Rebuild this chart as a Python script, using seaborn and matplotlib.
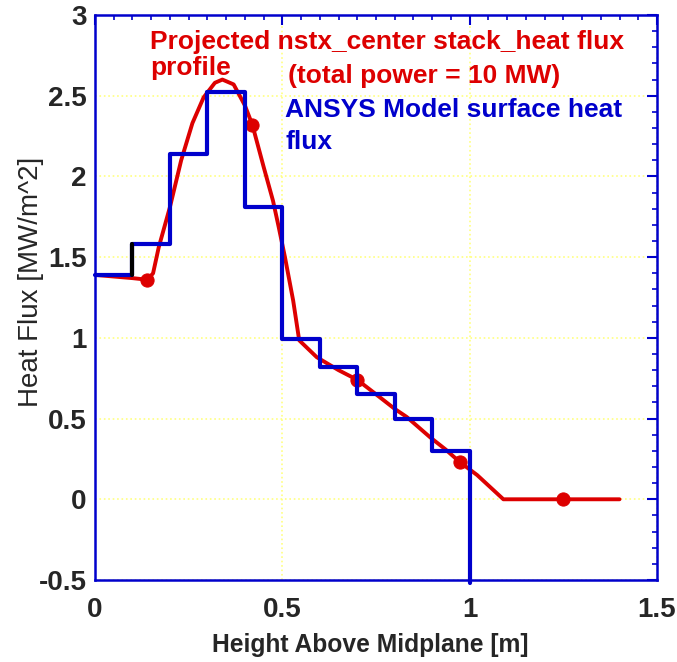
import matplotlib
matplotlib.use("Agg")
import matplotlib.pyplot as plt
import seaborn as sns
from matplotlib.ticker import MultipleLocator

# projected heat flux profile (red)
profile_x = [0.0, 0.05, 0.1, 0.14, 0.155, 0.17, 0.2, 0.23, 0.26, 0.29, 0.32, 0.34,
             0.37, 0.40, 0.42, 0.45, 0.475, 0.49, 0.507, 0.529, 0.545, 0.592, 0.65,
             0.70, 0.742, 0.80, 0.832, 0.894, 0.935, 0.974, 1.02, 1.09, 1.25, 1.40]
profile_y = [1.39, 1.38, 1.37, 1.36, 1.40, 1.56, 1.81, 2.10, 2.33, 2.49, 2.58, 2.60,
             2.57, 2.44, 2.32, 2.06, 1.85, 1.69, 1.50, 1.23, 0.985, 0.88, 0.80,
             0.74, 0.665, 0.56, 0.51, 0.385, 0.31, 0.23, 0.15, 0.0, 0.0, 0.0]
marker_x = [0.14, 0.42, 0.70, 0.974, 1.25]
marker_y = [1.36, 2.32, 0.74, 0.23, 0.0]

# ANSYS model surface heat flux (blue steps)
step_x = [0.0, 0.1, 0.2, 0.3, 0.4, 0.5, 0.6, 0.7, 0.8, 0.9, 1.0, 1.0]
step_y = [1.39, 1.58, 2.14, 2.52, 1.81, 0.99, 0.82, 0.65, 0.50, 0.30, 0.30, -0.52]

sns.set_style("white")
plt.rcParams['font.family'] = ['Liberation Sans', 'DejaVu Sans']

fig = plt.figure(figsize=(6.77, 6.62), dpi=100)
ax = fig.add_axes([95/677, 1 - 580/662, 562/677, 565/662])

blue = "#0000cc"
red = "#dd0000"

sns.lineplot(x=profile_x, y=profile_y, sort=False, estimator=None, color=red,
             linewidth=2.8, ax=ax, zorder=3)
sns.scatterplot(x=marker_x, y=marker_y, color=red, s=90, edgecolor=red, ax=ax, zorder=4)
sns.lineplot(x=step_x, y=step_y, sort=False, estimator=None, color=blue,
             linewidth=3, drawstyle='steps-post', ax=ax, zorder=5, clip_on=False)
# black riser at x = 0.1
ax.plot([step_x[1], step_x[1]], [step_y[0], step_y[1]], color='black', lw=3, zorder=6)

ax.set_xlim(0, 1.5)
ax.set_ylim(-0.5, 3)
ax.xaxis.set_major_locator(MultipleLocator(0.5))
ax.xaxis.set_minor_locator(MultipleLocator(0.05))
ax.yaxis.set_major_locator(MultipleLocator(0.5))
ax.yaxis.set_minor_locator(MultipleLocator(0.1))
ax.set_xticks([0, 0.5, 1, 1.5], ['0', '0.5', '1', '1.5'])
ax.set_yticks([-0.5, 0, 0.5, 1, 1.5, 2, 2.5, 3], ['-0.5', '0', '0.5', '1', '1.5', '2', '2.5', '3'])
ax.tick_params(which='both', direction='in', top=True, right=True, color=blue,
               labelsize=20)
ax.tick_params(axis='x', pad=12)
ax.tick_params(axis='y', pad=6)
ax.tick_params(which='major', length=7, width=1.5)
ax.tick_params(which='minor', length=3.6, width=1.2)
for lab in ax.get_xticklabels() + ax.get_yticklabels():
    lab.set_fontweight('bold')
for sp in ax.spines.values():
    sp.set_color(blue)
    sp.set_linewidth(1.8)

ax.grid(True, which='major', color='#ffff80', linestyle=':', linewidth=1.2)
ax.set_axisbelow(True)

ax.set_xlabel("Height Above Midplane [m]", fontsize=17.7, fontweight='bold')
ax.xaxis.set_label_coords(0.489, -0.094)
ax.set_ylabel("Heat Flux [MW/m^2]", fontsize=20)
ax.yaxis.set_label_coords(-0.09, 0.527)

ax.text(0.147, 2.792, "Projected nstx_center stack_heat flux", color=red,
        fontsize=19, fontweight='bold', va='baseline', zorder=7)
ax.text(0.147, 2.627, "profile", color=red, fontsize=19, fontweight='bold',
        va='baseline', zorder=7)
ax.text(0.514, 2.576, "(total power = 10 MW)", color=red, fontsize=19,
        fontweight='bold', va='baseline', zorder=7)
ax.text(0.508, 2.369, "ANSYS Model surface heat", color=blue, fontsize=19,
        fontweight='bold', va='baseline', zorder=7)
ax.text(0.508, 2.173, "flux", color=blue, fontsize=19, fontweight='bold',
        va='baseline', zorder=7)

fig.savefig("out.png", dpi=100)
